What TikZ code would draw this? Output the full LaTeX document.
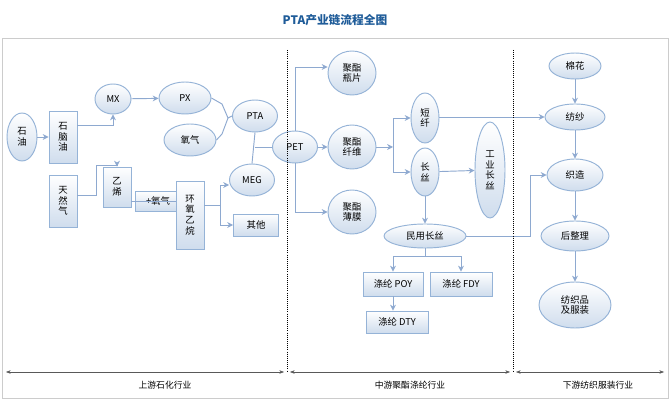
\documentclass[tikz,border=0pt]{standalone}
\usepackage{fontspec}
\newfontfamily\cjk{Noto Sans CJK SC}
\usetikzlibrary{arrows.meta,shapes.geometric}
\definecolor{bd}{HTML}{95B3D7}
\definecolor{ln}{HTML}{8EA9D0}
\definecolor{tt}{HTML}{1F5C99}
\tikzset{
 base/.style={draw=bd,thick,top color=white,bottom color=bd!45,font=\cjk\fontsize{8}{9}\selectfont,align=center,inner sep=0pt},
 bx/.style={base,rectangle},
 ar/.style={draw=ln,thick,-{Stealth[length=5pt,width=5pt]}},
 ln/.style={draw=ln,thick},
}
\begin{document}
\begin{tikzpicture}[x=0.03cm,y=-0.03cm]
\useasboundingbox (0,0) rectangle (671,401);
\fill[white] (0,0) rectangle (671,401);
\draw[gray!40] (2,38) rectangle (668,398);
\node[font=\cjk\bfseries\fontsize{10}{12}\selectfont,text=tt] (title) at (335,20) {PTA产业链流程全图};
% left
\node[base,ellipse,minimum width=30*0.03cm,minimum height=48*0.03cm] (sy) at (22,137) {石\\油};
\node[bx,minimum width=28*0.03cm,minimum height=52*0.03cm] (snyo) at (63,137) {石\\脑\\油};
\node[base,ellipse,minimum width=36*0.03cm,minimum height=30*0.03cm] (mx) at (113,99) {MX};
\node[base,ellipse,minimum width=52*0.03cm,minimum height=32*0.03cm] (px) at (185,98) {PX};
\node[base,ellipse,minimum width=52*0.03cm,minimum height=32*0.03cm] (o2) at (190,140) {氧气};
\node[base,ellipse,minimum width=45*0.03cm,minimum height=32*0.03cm] (pta) at (255,116) {PTA};
\node[base,ellipse,minimum width=45*0.03cm,minimum height=32*0.03cm] (pet) at (295,147) {PET};
\node[base,ellipse,minimum width=45*0.03cm,minimum height=32*0.03cm] (meg) at (252,180) {MEG};
\node[bx,minimum width=28*0.03cm,minimum height=52*0.03cm] (trq) at (63,201) {天\\然\\气};
\node[bx,minimum width=28*0.03cm,minimum height=40*0.03cm] (yx) at (117,187) {乙\\烯};
\node[bx,minimum width=45*0.03cm,minimum height=20*0.03cm] (jo2) at (158,201) {+氧气};
\node[bx,minimum width=28*0.03cm,minimum height=68*0.03cm] (hy) at (190,215) {环\\氧\\乙\\烷};
\node[bx,minimum width=45*0.03cm,minimum height=22*0.03cm] (qt) at (256,225) {其他};
\draw[ar] (sy) -- (snyo);
\draw[ar] (snyo.east|-0,125) -| (mx.south);
\draw[ar] (mx) -- (px);
\coordinate (jn) at (228,118);
\draw[ln] (px.east) -- (222,104) -- (jn) -- (222,134) -- (o2.east);
\draw[ln] (jn) -- (pta.west);
\draw[ln] (pta.south) -- (meg.north);
\draw[ln] (pta.south|-pet) -- (pet.west);
\draw[ar] (trq.east|-0,195) -- (96,195) -- (96,165) -| (yx.north);
\draw[ln] (yx.east|-jo2) -- (hy.west|-jo2);
\coordinate (br) at (220,205);
\draw[ln] (hy.east|-br) -- (br);
\draw[ar] (br) |- (meg.west|-0,185);
\draw[ar] (br) |- (qt.west);
% middle
\node[base,ellipse,minimum width=48*0.03cm,minimum height=44*0.03cm] (pz) at (352,73) {聚酯\\瓶片};
\node[base,ellipse,minimum width=48*0.03cm,minimum height=44*0.03cm] (xw) at (352,147) {聚酯\\纤维};
\node[base,ellipse,minimum width=48*0.03cm,minimum height=44*0.03cm] (bm) at (352,212) {聚酯\\薄膜};
\node[base,ellipse,minimum width=28*0.03cm,minimum height=50*0.03cm] (dx) at (425,118) {短\\纤};
\node[base,ellipse,minimum width=28*0.03cm,minimum height=48*0.03cm] (cs) at (425,172) {长\\丝};
\node[base,ellipse,minimum width=30*0.03cm,minimum height=96*0.03cm] (gy) at (490,170) {工\\业\\长\\丝};
\node[base,ellipse,minimum width=82*0.03cm,minimum height=24*0.03cm] (my) at (425,236) {民用长丝};
\node[bx,minimum width=60*0.03cm,minimum height=24*0.03cm] (poy) at (393,284) {涤纶 POY};
\node[bx,minimum width=62*0.03cm,minimum height=24*0.03cm] (fdy) at (461,284) {涤纶 FDY};
\node[bx,minimum width=62*0.03cm,minimum height=22*0.03cm] (dty) at (397,322) {涤纶 DTY};
\draw[ln] (pet.north) -- (295,67);
\draw[ln] (pet.south) -- (295,212);
\draw[ar] (295,67) -- (pz.west|-0,67);
\draw[ar] (pet) -- (xw);
\draw[ar] (295,212) -- (bm.west|-0,212);
\draw[ar] (xw) -- (393,147);
\draw[ar] (393,147) |- (dx.west);
\draw[ar] (393,147) |- (cs.west);
\draw[ar] (cs) -- (gy);
\draw[ar] (cs) -- (my);
\draw[ln] (my.south) -- (425,256);
\draw[ar] (poy.north|-0,256) -- (fdy.north|-0,256) -- (fdy.north);
\draw[ar] (425,256) -| (poy.north);
\draw[ar] (poy) -- (poy.south|-dty.north);
% right
\node[base,ellipse,minimum width=52*0.03cm,minimum height=26*0.03cm] (mh) at (575,66) {棉花};
\node[base,ellipse,minimum width=60*0.03cm,minimum height=26*0.03cm] (fs) at (575,117) {纺纱};
\node[base,ellipse,minimum width=56*0.03cm,minimum height=32*0.03cm] (zz) at (575,175) {织造};
\node[base,ellipse,minimum width=68*0.03cm,minimum height=30*0.03cm] (hz) at (575,236) {后整理};
\node[base,ellipse,minimum width=72*0.03cm,minimum height=46*0.03cm] (fz) at (575,305) {纺织品\\及服装};
\draw[ar] (dx.east|-fs) -- (fs);
\draw[ar] (my.east) -- (530,236) |- (zz.west);
\draw[ar] (mh) -- (fs);
\draw[ar] (fs) -- (zz);
\draw[ar] (zz) -- (hz);
\draw[ar] (hz) -- (fz);
% dividers
\draw[densely dotted,thick] (287,50) -- (287,372);
\draw[densely dotted,thick] (513,50) -- (513,372);
\draw[gray!70!black,{Stealth[length=4pt]}-{Stealth[length=4pt]}] (6,372) -- (284,372);
\draw[gray!70!black,{Stealth[length=4pt]}-{Stealth[length=4pt]}] (290,372) -- (510,372);
\draw[gray!70!black,{Stealth[length=4pt]}-{Stealth[length=4pt]}] (516,372) -- (664,372);
\node[font=\cjk\fontsize{7.5}{9}\selectfont] (l1) at (165,385) {上游石化行业};
\node[font=\cjk\fontsize{7.5}{9}\selectfont] (l2) at (410,385) {中游聚酯涤纶行业};
\node[font=\cjk\fontsize{7.5}{9}\selectfont] (l3) at (598,385) {下游纺织服装行业};
\end{tikzpicture}
\end{document}
